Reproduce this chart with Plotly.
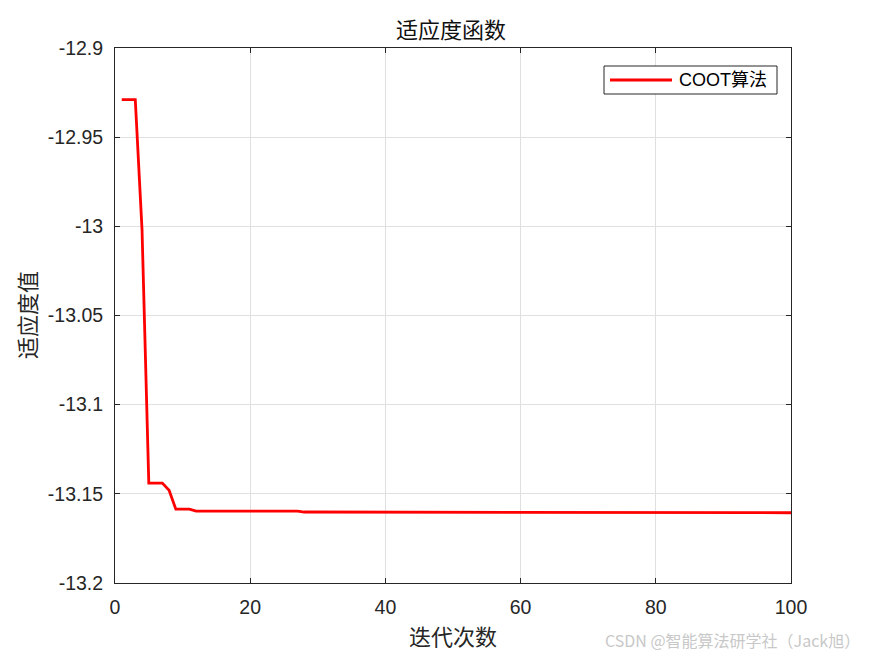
import plotly.graph_objects as go

iterations = [1, 3, 4, 5, 7, 8, 9, 11, 12, 27, 28, 53, 54, 100]
fitness = [-12.929, -12.929, -13.002, -13.144, -13.144, -13.148, -13.1586, -13.1586,
           -13.1597, -13.1597, -13.1602, -13.1602, -13.1606, -13.1606]
x_ticks = [0, 20, 40, 60, 80, 100]
y_ticks = [-12.9, -12.95, -13, -13.05, -13.1, -13.15, -13.2]
y_ticklabels = ["-12.9", "-12.95", "-13", "-13.05", "-13.1", "-13.15", "-13.2"]
series_name = "COOT算法"

cjk = "Noto Sans CJK SC"
latin = "Liberation Sans, Arial"
line_color = "#ff0000"

# plot area in page pixels (page has an 8px body offset)
PL, PR, PT, PB = 115, 791, 48, 583
PW, PH = PR - PL, PB - PT


def px(X):
    return (X - PL) / PW


def py(Y):
    return (PB - Y) / PH


fig = go.Figure()
fig.add_trace(go.Scatter(x=iterations, y=fitness, mode="lines", name=series_name,
                         line=dict(color=line_color, width=2.8), showlegend=False))

axis_common = dict(showline=True, linecolor="#262626", linewidth=1, mirror="ticks",
                   ticks="inside", ticklen=5, tickcolor="#262626",
                   showgrid=True, gridcolor="#e0e0e0", gridwidth=1, zeroline=False,
                   ticklabelstandoff=7,
                   tickfont=dict(family=latin, size=19.5, color="#262626"))

W, H = 867, 648
fig.update_layout(
    width=W, height=H,
    margin=dict(l=PL - 8, r=W - (PR - 8), t=PT - 8, b=H - (PB - 8), autoexpand=False),
    paper_bgcolor="white", plot_bgcolor="white",
    title=dict(text="适应度函数", x=px(451), xref="paper", xanchor="center",
               y=1 - 22 / H, yanchor="middle",
               font=dict(family=cjk, size=22, color="#111")),
    xaxis=dict(range=[0, 100], tickvals=x_ticks, automargin=False, **axis_common),
    yaxis=dict(range=[-13.2, -12.9], tickvals=y_ticks, ticktext=y_ticklabels,
               automargin=False, **axis_common),
    showlegend=False,
)

# axis titles
fig.add_annotation(text="迭代次数", xref="paper", yref="paper", x=px(453), y=py(635),
                   xanchor="center", yanchor="middle", showarrow=False,
                   font=dict(family=cjk, size=22, color="#262626"))
fig.add_annotation(text="适应度值", xref="paper", yref="paper", x=px(26), y=py(315),
                   xanchor="center", yanchor="middle", showarrow=False, textangle=-90,
                   font=dict(family=cjk, size=22, color="#262626"))

# legend box
fig.add_shape(type="rect", xref="paper", yref="paper", x0=px(604), x1=px(777),
              y0=py(94), y1=py(66), line=dict(color="#262626", width=1), fillcolor="white",
              layer="above")
fig.add_shape(type="line", xref="paper", yref="paper", x0=px(610), x1=px(672),
              y0=py(80), y1=py(80), line=dict(color=line_color, width=2.8), layer="above")
fig.add_annotation(text=series_name, xref="paper", yref="paper", x=px(677), y=py(80),
                   xanchor="left", yanchor="middle", showarrow=False,
                   font=dict(family=latin + ", " + cjk, size=18, color="#000"))

# watermark
fig.add_annotation(text="CSDN @智能算法研学社（Jack旭）", xref="paper", yref="paper",
                   x=px(862), y=py(640), xanchor="right", yanchor="middle",
                   showarrow=False, font=dict(family=cjk, size=16, color="#c8c8c8"))

fig.write_html("out.html")
